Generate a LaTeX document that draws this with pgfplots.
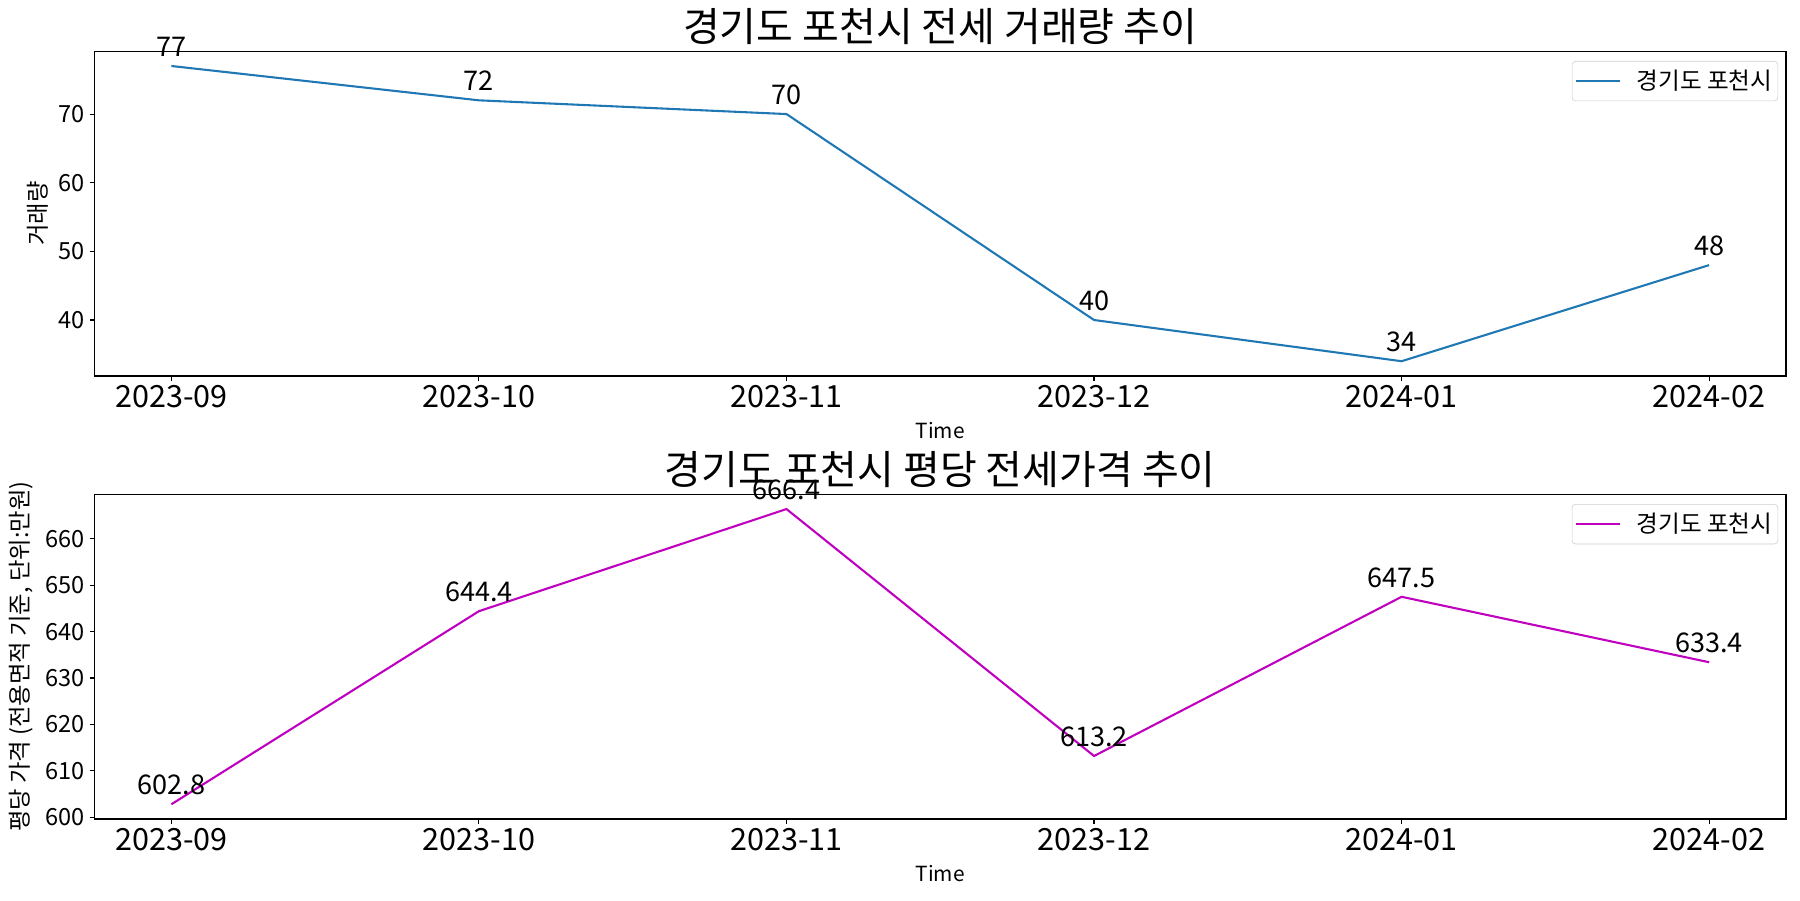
\documentclass[border=0pt]{standalone}
\usepackage{fontspec}
\setmainfont{Noto Sans CJK KR}
\usepackage{pgfplots}
\pgfplotsset{compat=1.18}
\definecolor{tabblue}{HTML}{1F77B4}
\definecolor{mplm}{rgb}{0.75,0,0.75}
\definecolor{leggray}{HTML}{CCCCCC}
\pgfplotsset{
  mystyle/.style={
    scale only axis, width=1217.9pt, height=233.8pt,
    xmin=-0.25, xmax=5.25,
    xtick={0,1,2,3,4,5},
    xticklabels={2023-09,2023-10,2023-11,2023-12,2024-01,2024-02},
    tick align=outside, xtick pos=bottom, ytick pos=left,
    major tick length=3.5pt,
    every tick/.style={black, line width=0.8pt},
    axis line style={line width=0.8pt},
    /pgf/number format/assume math mode=true,
    xticklabel style={font=\fontsize{22}{22}\selectfont},
    yticklabel style={font=\fontsize{17}{17}\selectfont},
    xlabel={Time},
    xlabel style={at={(axis description cs:0.5,-0.192)}, anchor=base, font=\fontsize{15}{15}\selectfont},
    ylabel style={anchor=center, font=\fontsize{16.8}{16.8}\selectfont},
    title style={anchor=base, font=\fontsize{28.8}{28.8}\selectfont},
    legend style={at={(axis description cs:0.9953,0.97)}, anchor=north east, draw=leggray, rounded corners=2.5pt, font=\fontsize{17}{17}\selectfont, inner xsep=2pt, inner ysep=4.5pt,
      /tikz/every odd column/.append style={column sep=9pt}},
    legend cell align=left,
    legend image code/.code={\draw[#1, line width=1.5pt] (0pt,0pt) -- (32pt,0pt);},
    nodes near coords, point meta=explicit symbolic,
    every node near coord/.append style={anchor=base, yshift=6.8pt, font=\fontsize{19.5}{19.5}\selectfont, inner sep=0pt, text=black},
    clip=false,
  }
}
\begin{document}
\begin{tikzpicture}
\useasboundingbox (0,0) rectangle (1296pt,648pt);
\begin{axis}[mystyle,
  at={(68.04pt,377.3pt)}, anchor=south west,
  ymin=31.85, ymax=79.15,
  ytick={40,50,60,70},
  ylabel={거래량},
  ylabel style={at={(axis description cs:-0.0334,0.5)}},
  title={경기도 포천시 전세 거래량 추이},
  title style={at={(axis description cs:0.5,1.004)}},
]
\addplot[color=tabblue, line width=1.5pt] coordinates {(0,77) [77] (1,72) [72] (2,70) [70] (3,40) [40] (4,34) [34] (5,48) [48]};
\addlegendentry{경기도 포천시}
\end{axis}
\begin{axis}[mystyle,
  at={(68.04pt,58.3pt)}, anchor=south west,
  ymin=599.62, ymax=669.58,
  ytick={600,610,620,630,640,650,660},
  ylabel={평당 가격 (전용면적 기준, 단위:만원)},
  ylabel style={at={(axis description cs:-0.0436,0.5)}},
  title={경기도 포천시 평당 전세가격 추이},
  title style={at={(axis description cs:0.5,1.004)}},
]
\addplot[color=mplm, line width=1.5pt] coordinates {(0,602.8) [602.8] (1,644.4) [644.4] (2,666.4) [666.4] (3,613.2) [613.2] (4,647.5) [647.5] (5,633.4) [633.4]};
\addlegendentry{경기도 포천시}
\end{axis}
\end{tikzpicture}
\end{document}
